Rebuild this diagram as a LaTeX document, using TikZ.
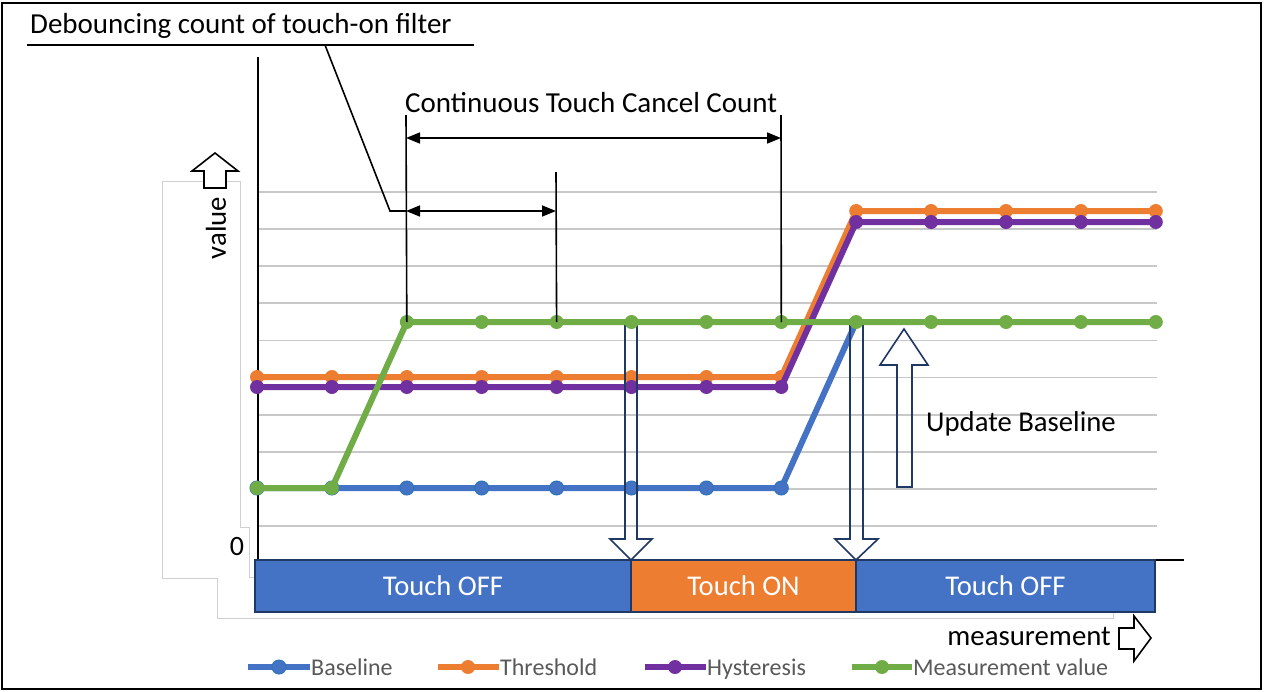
\documentclass[tikz,border=0pt]{standalone}
\usepackage{fontspec}
\setmainfont{Carlito}
\usetikzlibrary{arrows.meta}
\definecolor{cblue}{HTML}{4472C4}
\definecolor{corange}{HTML}{ED7D31}
\definecolor{cpurple}{HTML}{7030A0}
\definecolor{cgreen}{HTML}{70AD47}
\definecolor{cnavy}{HTML}{203864}
\definecolor{cgrid}{HTML}{C8C8C8}
\definecolor{cbox}{HTML}{D0D0D0}
\definecolor{clegend}{HTML}{595959}
\definecolor{cmark}{HTML}{2E75B6}
\newcommand{\fsz}[1]{\fontsize{#1}{#1}\selectfont}
\begin{document}
\begin{tikzpicture}[x=1pt,y=-1pt,
  series/.style={line width=6pt,line join=round},
  mk/.style={circle,inner sep=0pt,minimum size=14pt},
  grid line/.style={cgrid,line width=1.8pt},
  axis line/.style={black,line width=2pt},
  ann/.style={black,line width=1.6pt},
  dim arrow/.style={ann,{Triangle[length=14pt,width=11pt]}-{Triangle[length=14pt,width=11pt]}},
  block arrow/.style={line width=1.6pt,line join=miter},
  seg/.style={draw=cnavy,line width=2pt,text=white,inner sep=0pt,minimum height=52pt,font=\fsz{28.6}},
  lbl/.style={inner sep=0pt,text=black},
  legtext/.style={inner sep=0pt,text=clegend,font=\fsz{24},anchor=base west},
  faint/.style={cbox,line width=1pt}]
\useasboundingbox (0,0) rectangle (1265,691);
\fill[white] (0,0) rectangle (1265,691);
\draw[black,line width=2pt] (2,3) rectangle (1261,689);

% faint text-box outlines
\coordinate (fa1) at (240,181); \coordinate (fa2) at (162,181); \coordinate (fa3) at (162,578);
\coordinate (fa4) at (217,578); \coordinate (fa5) at (217,618); \coordinate (fa6) at (1113,618);
\coordinate (fa7) at (1113,612);
\draw[faint] (fa7) -- (fa6) -- (fa5) -- (fa4) -- (fa3) -- (fa2) -- (fa1);
\coordinate (fb1) at (240,527); \coordinate (fb2) at (249,527); \coordinate (fb3) at (249,577); \coordinate (fb4) at (255,577);
\draw[faint] (fa1) -- (fb1) -- (fb2) -- (fb3) -- (fb4);

% grid lines
\foreach \k in {0,...,9}{
  \coordinate (gl\k) at (258,{192+37.1*\k});
  \coordinate (gr\k) at (1157,{192+37.1*\k});
  \draw[grid line] (gl\k) -- (gr\k);
}

% axes
\coordinate (yaxT) at (258,57); \coordinate (yaxB) at (258,560);
\coordinate (xaxL) at (255,560); \coordinate (xaxR) at (1184,560);
\draw[axis line] (yaxT) -- (yaxB);
\draw[axis line] (xaxL) -- (xaxR);

% data coordinates
\foreach \i/\v in {0/488,1/488,2/488,3/488,4/488,5/488,6/488,7/488,8/322}
  \coordinate (b\i) at ({257+74.9*\i},\v);
\foreach \i/\v in {0/377,1/377,2/377,3/377,4/377,5/377,6/377,7/377,8/211,9/211,10/211,11/211,12/211}
  \coordinate (t\i) at ({257+74.9*\i},\v);
\foreach \i/\v in {0/387,1/387,2/387,3/387,4/387,5/387,6/387,7/387,8/222,9/222,10/222,11/222,12/222}
  \coordinate (h\i) at ({257+74.9*\i},\v);
\foreach \i/\v in {0/488,1/488,2/322,3/322,4/322,5/322,6/322,7/322,8/322,9/322,10/322,11/322,12/322}
  \coordinate (m\i) at ({257+74.9*\i},\v);

% baseline
\draw[series,cblue] (b0) \foreach \i in {1,...,8}{ -- (b\i)};
\foreach \i in {0,...,7} \node[mk,fill=cblue,draw=cmark,line width=1pt] (bm\i) at (b\i) {};
% threshold
\draw[series,corange] (t0) \foreach \i in {1,...,12}{ -- (t\i)};
\foreach \i in {0,...,12} \node[mk,fill=corange] (tm\i) at (t\i) {};
% hysteresis
\draw[series,cpurple] (h0) \foreach \i in {1,...,12}{ -- (h\i)};
\foreach \i in {0,...,12} \node[mk,fill=cpurple] (hm\i) at (h\i) {};

% block arrows (down, down, up)
\draw[block arrow,cnavy] (625,322) -- (625,539) -- (610,539) -- (631,560) -- (652,539) -- (637,539) -- (637,322);
\draw[block arrow,cnavy] (850,322) -- (850,539) -- (835,539) -- (856,560) -- (878,539) -- (863,539) -- (863,322);
\draw[block arrow,cnavy] (897,487) -- (897,365) -- (880,365) -- (904,329) -- (928,365) -- (912,365) -- (912,487) -- cycle;

% measurement value
\draw[series,cgreen] (m0) \foreach \i in {1,...,12}{ -- (m\i)};
\foreach \i in {0,...,12} \node[mk,fill=cgreen] (mm\i) at (m\i) {};

% annotations
\coordinate (v1T) at (406,115); \coordinate (v2T) at (556,172); \coordinate (v3T) at (781,115);
\draw[ann] (v1T) -- (m2);
\draw[ann] (v2T) -- (m4);
\draw[ann] (v3T) -- (m7);
\coordinate (ccL) at (406,138); \coordinate (ccR) at (781,138);
\draw[dim arrow] (ccL) -- (ccR);
\coordinate (dbL) at (406,211); \coordinate (dbR) at (556,211);
\draw[dim arrow] (dbL) -- (dbR);
\node[lbl,anchor=west,font=\fsz{29}] (cctext) at (405,103) {Continuous Touch Cancel Count};

\node[lbl,anchor=west,font=\fsz{29}] (dbtext) at (30,26) {Debouncing count of touch-on filter};
\coordinate (ulL) at (27,45); \coordinate (ulR) at (474,45);
\draw[ann] (ulL) -- (ulR);
\coordinate (co1) at (325,45); \coordinate (co2) at (390,211);
\draw[ann] (co1) -- (co2) -- (dbL);

\node[lbl,anchor=west,font=\fsz{28.7}] (ubtext) at (926,424) {Update Baseline};

% value axis label
\draw[block arrow,black,fill=white] (204,188) -- (204,171) -- (192,171) -- (215,153) -- (238,171) -- (226,171) -- (226,188) -- cycle;
\node[lbl,rotate=90,font=\fsz{28.8}] (valtext) at (216,228) {value};
\node[lbl,font=\fsz{28}] (zero) at (237,546) {0};

% state bar
\node[seg,fill=cblue,minimum width=376pt] (off1) at (443,586) {Touch OFF};
\node[seg,fill=corange,minimum width=225pt] (on1) at (743.5,586) {Touch ON};
\node[seg,fill=cblue,minimum width=299pt] (off2) at (1005.5,586) {Touch OFF};

% measurement axis label
\node[lbl,anchor=east,font=\fsz{28.8}] (meastext) at (1111,636) {measurement};
\draw[block arrow,black,fill=white] (1119,628) -- (1134,628) -- (1134,616) -- (1151,638) -- (1134,661) -- (1134,649) -- (1119,649) -- cycle;

% legend
\coordinate (lb1) at (248,667); \coordinate (lb2) at (310,667);
\draw[series,cblue] (lb1) -- (lb2);
\node[mk,fill=cblue,draw=cmark,line width=1pt] (lbm) at (279,667) {};
\node[legtext] (lbt) at (311,675.5) {Baseline};
\coordinate (lt1) at (438,667); \coordinate (lt2) at (499,667);
\draw[series,corange] (lt1) -- (lt2);
\node[mk,fill=corange] (ltm) at (468,667) {};
\node[legtext] (ltt) at (500,675.5) {Threshold};
\coordinate (lh1) at (645,667); \coordinate (lh2) at (706,667);
\draw[series,cpurple] (lh1) -- (lh2);
\node[mk,fill=cpurple] (lhm) at (675,667) {};
\node[legtext] (lht) at (707,675.5) {Hysteresis};
\coordinate (lm1) at (852,667); \coordinate (lm2) at (912,667);
\draw[series,cgreen] (lm1) -- (lm2);
\node[mk,fill=cgreen] (lmm) at (882,667) {};
\node[legtext] (lmt) at (913,675.5) {Measurement value};
\end{tikzpicture}
\end{document}
